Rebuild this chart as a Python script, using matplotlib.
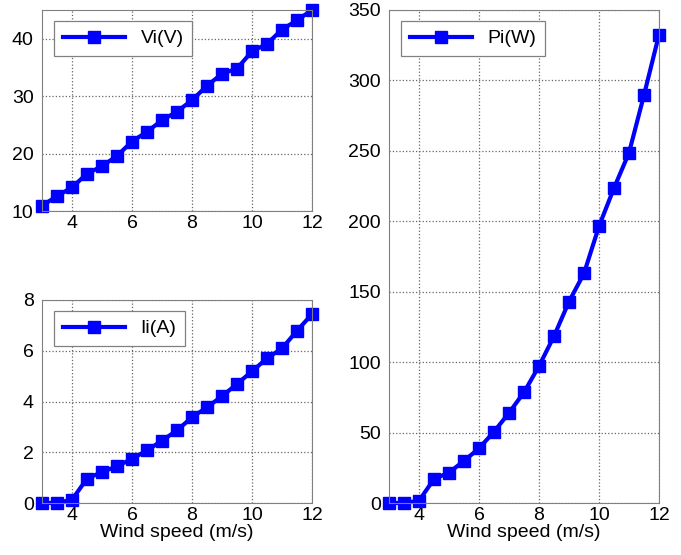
import matplotlib
matplotlib.use("Agg")
import matplotlib.pyplot as plt

# wind speed sweep (m/s)
wind = [3, 3.5, 4, 4.5, 5, 5.5, 6, 6.5, 7, 7.5, 8, 8.5, 9, 9.5, 10, 10.5, 11, 11.5, 12]
# inverter voltage, current and power
vi = [10.9, 12.6, 14.1, 16.5, 17.8, 19.6, 22.1, 23.8, 25.8, 27.3, 29.3, 31.8,
      33.9, 34.8, 37.8, 39.1, 41.6, 43.2, 45.0]
ii = [0.0, 0.0, 0.13, 0.96, 1.22, 1.45, 1.74, 2.07, 2.46, 2.86, 3.38, 3.77,
      4.21, 4.69, 5.19, 5.70, 6.09, 6.79, 7.44]
pi = [0.0, 0.0, 1.6, 17.0, 21.6, 29.9, 38.8, 50.6, 64.0, 78.6, 97.2, 118.4,
      143.0, 163.0, 196.5, 223.6, 248.6, 289.6, 332.5]

plt.rcParams["font.family"] = ["Liberation Sans", "DejaVu Sans"]
plt.rcParams["font.size"] = 14

W, H = 681, 555
fig = plt.figure(figsize=(W / 100, H / 100), dpi=100)


def box(left, top, right, bottom):
    return [left / W, 1 - bottom / H, (right - left) / W, (bottom - top) / H]


def style(ax, ylim, yticks, w_px, h_px):
    ax.set_xlim(3, 12)
    ax.set_ylim(*ylim)
    ax.set_xticks([4, 6, 8, 10, 12])
    ax.set_yticks(yticks)
    ax.grid(True, linestyle=":", color="#666666", linewidth=0.9)
    ax.tick_params(length=0, labelsize=14)
    ax.tick_params(axis="y", pad=6)
    ax.tick_params(axis="x", pad=3)
    for s in ax.spines.values():
        s.set_color("#808080")
    # legend sits a fixed few pixels in from the top-left corner
    leg = ax.legend(loc="upper left", fancybox=False, framealpha=1,
                    edgecolor="#808080", handlelength=3.2, fontsize=14,
                    borderpad=0.45, borderaxespad=0,
                    bbox_to_anchor=(12 / w_px, 1 - 11 / h_px))
    leg.get_frame().set_linewidth(0.9)


line_kw = dict(color="#0000ff", linewidth=3, marker="s", markersize=9)

ax1 = fig.add_axes(box(42, 10, 312, 211))
ax1.plot(wind, vi, label="Vi(V)", **line_kw)
style(ax1, (10, 45), [10, 20, 30, 40], 270, 201)

ax2 = fig.add_axes(box(42, 300, 312, 503))
ax2.plot(wind, ii, label="Ii(A)", **line_kw)
style(ax2, (0, 8), [0, 2, 4, 6, 8], 270, 203)
ax2.set_xlabel("Wind speed (m/s)", fontsize=14, labelpad=0)

ax3 = fig.add_axes(box(389, 10, 659, 503))
ax3.plot(wind, pi, label="Pi(W)", **line_kw)
style(ax3, (0, 350), [0, 50, 100, 150, 200, 250, 300, 350], 270, 493)
ax3.set_xlabel("Wind speed (m/s)", fontsize=14, labelpad=0)

for ax in (ax1, ax2, ax3):
    for ln in ax.get_lines():
        ln.set_clip_on(False)

fig.savefig("out.png", dpi=100)
